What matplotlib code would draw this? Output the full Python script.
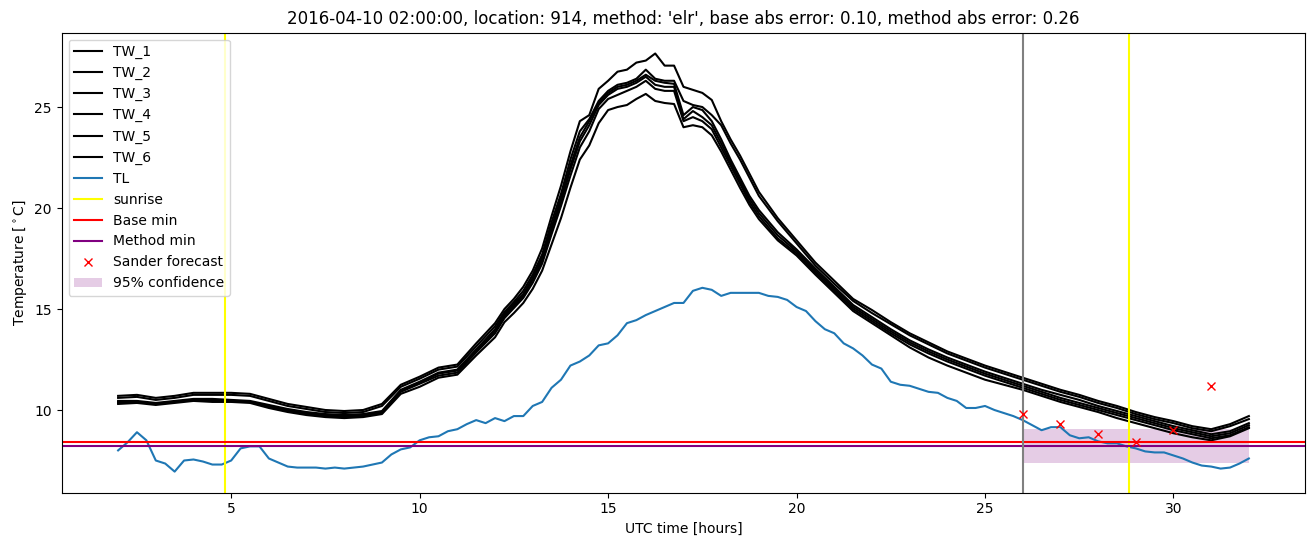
import matplotlib
matplotlib.use("Agg")
import matplotlib.pyplot as plt

# time axis of the water temperature sensors (hours UTC)
t_tw = ([2.0 + 0.5 * i for i in range(21)]
        + [12.25 + 0.25 * i for i in range(28)]
        + [19.5 + 0.5 * i for i in range(26)])

tw_1 = [10.7, 10.75, 10.6, 10.7, 10.85, 10.85, 10.85, 10.8, 10.55, 10.3, 10.15, 10.0, 9.95, 10.0, 10.3, 11.25, 11.65, 12.1, 12.25, 13.3, 14.3,
        15.0, 15.5, 16.1, 16.9, 18.0, 19.6, 21.1, 22.8, 24.3, 24.6,
        25.9, 26.3, 26.75, 26.85, 27.2, 27.3, 27.65, 27.05, 27.05, 26.0, 25.85, 25.7, 25.35, 24.3,
        23.4, 22.6, 21.7, 20.8,
        19.5, 18.4, 17.3, 16.4, 15.5, 14.95, 14.35, 13.8, 13.35, 12.9, 12.55, 12.2, 11.9, 11.6, 11.3, 11.0, 10.75, 10.45, 10.2, 9.9, 9.65, 9.45, 9.2, 9.05, 9.3, 9.7]
tw_2 = [10.6, 10.65, 10.5, 10.6, 10.75, 10.75, 10.75, 10.7, 10.45, 10.2, 10.05, 9.9, 9.85, 9.9, 10.2, 11.15, 11.55, 12.0, 12.15, 13.15, 14.15,
        14.85, 15.35, 15.9, 16.7, 17.7, 19.3, 20.7, 22.4, 23.8, 24.4,
        25.3, 25.8, 26.1, 26.2, 26.4, 26.85, 26.4, 26.3, 26.3, 25.3, 25.1, 25.0, 24.6, 24.1,
        23.2, 22.4, 21.5, 20.6,
        19.35, 18.25, 17.15, 16.25, 15.4, 14.8, 14.25, 13.7, 13.25, 12.8, 12.45, 12.1, 11.8, 11.5, 11.2, 10.9, 10.65, 10.35, 10.1, 9.8, 9.55, 9.35, 9.1, 8.95, 9.2, 9.55]
tw_3 = [10.45, 10.45, 10.35, 10.45, 10.55, 10.55, 10.5, 10.45, 10.25, 10.05, 9.9, 9.8, 9.75, 9.8, 9.95, 11.0, 11.4, 11.85, 12.0, 13.0, 14.0,
        14.75, 15.25, 15.75, 16.55, 17.55, 19.05, 20.5, 22.1, 23.5, 24.3,
        25.2, 25.7, 26.0, 26.1, 26.3, 26.6, 26.3, 26.2, 26.15, 24.6, 25.0, 24.85, 24.3, 23.4,
        22.4, 21.5, 20.6, 19.9,
        18.8, 17.95, 17.0, 16.1, 15.2, 14.6, 14.0, 13.45, 13.0, 12.6, 12.25, 11.9, 11.6, 11.3, 11.0, 10.75, 10.5, 10.2, 9.95, 9.7, 9.45, 9.2, 9.0, 8.8, 8.95, 9.35]
tw_4 = [10.4, 10.4, 10.3, 10.4, 10.5, 10.5, 10.45, 10.4, 10.2, 10.0, 9.85, 9.75, 9.7, 9.75, 9.9, 10.95, 11.35, 11.8, 11.95, 12.95, 13.9,
        14.65, 15.15, 15.65, 16.45, 17.4, 18.9, 20.3, 21.9, 23.3, 24.1,
        25.1, 25.6, 25.9, 26.0, 26.2, 26.5, 26.1, 26.0, 26.0, 24.4, 24.8, 24.5, 24.1, 23.2,
        22.25, 21.35, 20.45, 19.75,
        18.65, 17.85, 16.9, 16.0, 15.1, 14.5, 13.9, 13.35, 12.9, 12.5, 12.15, 11.8, 11.5, 11.2, 10.9, 10.6, 10.35, 10.1, 9.85, 9.6, 9.35, 9.1, 8.9, 8.7, 8.85, 9.25]
tw_5 = [10.35, 10.4, 10.3, 10.4, 10.5, 10.45, 10.45, 10.4, 10.15, 9.95, 9.8, 9.7, 9.65, 9.7, 9.85, 10.9, 11.3, 11.7, 11.85, 12.85, 13.8,
        14.55, 15.05, 15.55, 16.3, 17.25, 18.7, 20.1, 21.6, 23.0, 23.8,
        24.9, 25.4, 25.6, 25.8, 26.0, 26.3, 25.9, 25.8, 25.8, 24.3, 24.5, 24.3, 23.9, 23.0,
        22.1, 21.2, 20.3, 19.6,
        18.5, 17.75, 16.8, 15.9, 15.0, 14.4, 13.8, 13.25, 12.8, 12.4, 12.05, 11.7, 11.4, 11.1, 10.8, 10.5, 10.25, 10.0, 9.75, 9.5, 9.25, 9.0, 8.8, 8.6, 8.75, 9.15]
tw_6 = [10.3, 10.35, 10.25, 10.35, 10.45, 10.4, 10.4, 10.35, 10.1, 9.9, 9.75, 9.65, 9.6, 9.65, 9.8, 10.8, 11.15, 11.6, 11.75, 12.7, 13.6,
        14.35, 14.8, 15.3, 16.0, 16.9, 18.2, 19.5, 21.0, 22.4, 23.1,
        24.2, 24.85, 25.0, 25.1, 25.4, 25.65, 25.3, 25.2, 25.15, 24.0, 24.1, 24.0, 23.6, 22.8,
        21.9, 21.0, 20.15, 19.45,
        18.4, 17.65, 16.7, 15.8, 14.9, 14.3, 13.7, 13.1, 12.6, 12.2, 11.85, 11.5, 11.25, 11.0, 10.7, 10.4, 10.15, 9.9, 9.6, 9.35, 9.1, 8.85, 8.65, 8.5, 8.7, 9.1]

# air temperature, every 15 minutes from 02:00
t_tl = [2.0 + 0.25 * i for i in range(121)]
tl = [8.0, 8.4, 8.9, 8.5, 7.5, 7.35, 6.95, 7.5, 7.55, 7.45, 7.3, 7.3,
      7.5, 8.1, 8.2, 8.2, 7.6, 7.4, 7.2, 7.15, 7.15, 7.15, 7.1, 7.15,
      7.1, 7.15, 7.2, 7.3, 7.4, 7.8, 8.05, 8.15, 8.5, 8.65, 8.7, 8.95,
      9.05, 9.3, 9.5, 9.35, 9.6, 9.45, 9.7, 9.7, 10.2, 10.4, 11.1, 11.5,
      12.2, 12.4, 12.7, 13.2, 13.3, 13.7, 14.3, 14.45, 14.7, 14.9, 15.1, 15.3,
      15.3, 15.9, 16.05, 15.95, 15.65, 15.8, 15.8, 15.8, 15.8, 15.65, 15.6, 15.45,
      15.1, 14.9, 14.4, 14.0, 13.8, 13.3, 13.05, 12.7, 12.25, 12.05, 11.4, 11.25,
      11.2, 11.05, 10.9, 10.85, 10.6, 10.45, 10.1, 10.1, 10.2, 10.0, 9.85, 9.7,
      9.5, 9.25, 9.0, 9.15, 9.15, 8.75, 8.6, 8.65, 8.45, 8.35, 8.35, 8.2,
      8.1, 7.95, 7.9, 7.9, 7.75, 7.6, 7.4, 7.25, 7.2, 7.1, 7.15, 7.35, 7.6]

sunrise = [4.83, 28.82]
base_min = 8.43
method_min = 8.23
forecast_start = 26.0

sander_t = [26, 27, 28, 29, 30, 31]
sander_val = [9.8, 9.3, 8.8, 8.4, 9.0, 11.2]

conf_t = [26.0, 32.0]
conf_lo = 7.4
conf_hi = 9.05

fig = plt.figure(figsize=(13.1, 5.47), dpi=100)
ax = fig.add_subplot(111)
fig.subplots_adjust(left=0.047, right=0.9965, top=0.9404, bottom=0.0996)

tw_all = [tw_1, tw_2, tw_3, tw_4, tw_5, tw_6]
for i, tw in enumerate(tw_all):
    ax.plot(t_tw, tw, color="black", label="TW_%d" % (i + 1))
ax.plot(t_tl, tl, color="C0", label="TL")

for k, s in enumerate(sunrise):
    ax.axvline(s, color="yellow", label="sunrise" if k == 0 else None)
ax.axhline(base_min, color="red", label="Base min")
ax.axhline(method_min, color="purple", label="Method min")
ax.axvline(forecast_start, color="gray")
ax.plot(sander_t, sander_val, "rx", label="Sander forecast")
ax.fill_between(conf_t, conf_lo, conf_hi, color="purple", alpha=0.2,
                linewidth=0, label="95% confidence")

ax.set_xlabel("UTC time [hours]")
ax.set_ylabel(r"Temperature [$^\circ$C]")
ax.set_title("2016-04-10 02:00:00, location: 914, method: 'elr', "
             "base abs error: 0.10, method abs error: 0.26")
ax.legend(loc="upper left")

fig.savefig("out.png", dpi=100)
